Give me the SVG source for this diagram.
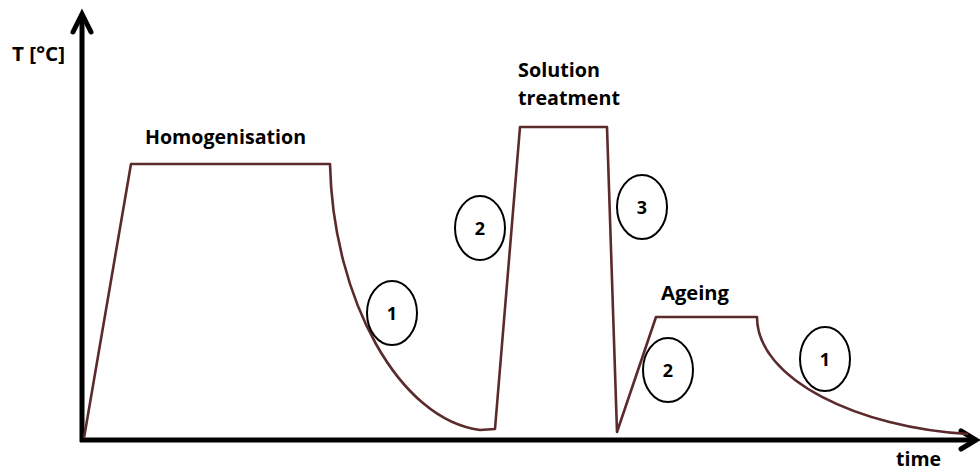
<svg xmlns="http://www.w3.org/2000/svg" width="980" height="472" viewBox="0 0 980 472">
  <style>
    .axis { fill: none; stroke: #000; stroke-width: 5; stroke-linecap: butt; }
    .head { fill: none; stroke: #000; stroke-width: 5; stroke-linecap: round; stroke-linejoin: miter; }
    .curve { fill: none; stroke: #5b2a2c; stroke-width: 2.6; stroke-linejoin: round; }
    .stage { fill: none; stroke: #000; stroke-width: 2; }
    .lbl { font-family: "Open Sans", "Liberation Sans", sans-serif; font-weight: bold; font-size: 19.5px; fill: #000; }
    .num { font-family: "Open Sans", "Liberation Sans", sans-serif; font-weight: bold; font-size: 18px; fill: #000; text-anchor: middle; }
  </style>
  <rect width="980" height="472" fill="#fff"/>

  <!-- axes -->
  <g id="axes">
    <line class="axis" x1="82" y1="442" x2="82" y2="16"/>
    <polyline class="head" points="73,32 82,14 91,32"/>
    <line class="axis" x1="80" y1="440" x2="974" y2="440"/>
    <polyline class="head" points="961,431 976,440 961,449"/>
    <text class="lbl" x="12" y="61" textLength="53" lengthAdjust="spacingAndGlyphs">T [°C]</text>
    <text class="lbl" x="896" y="466" textLength="45" lengthAdjust="spacingAndGlyphs">time</text>
  </g>

  <!-- temperature-time profile -->
  <g id="connectors">
    <path class="curve" d="M84,438 L131,164 L330,164 C333,300 400,420 480,430 L495,429 L520,127 L607,127 L617,432 L656,317 L757,317 C757,380 860,428 968,434"/>
  </g>

  <!-- stage labels -->
  <g id="homogenisation">
    <text class="lbl" x="145" y="144" textLength="161" lengthAdjust="spacingAndGlyphs">Homogenisation</text>
  </g>
  <g id="solution-treatment">
    <text class="lbl" x="518" y="77" textLength="82" lengthAdjust="spacingAndGlyphs">Solution</text>
    <text class="lbl" x="518" y="105" textLength="102" lengthAdjust="spacingAndGlyphs">treatment</text>
  </g>
  <g id="ageing">
    <text class="lbl" x="661" y="300" textLength="68" lengthAdjust="spacingAndGlyphs">Ageing</text>
  </g>

  <!-- numbered cooling/heating steps -->
  <g id="step-1a">
    <ellipse class="stage" cx="392" cy="313" rx="25" ry="32"/>
    <text class="num" x="392" y="320">1</text>
  </g>
  <g id="step-2a">
    <ellipse class="stage" cx="480" cy="228" rx="25" ry="32"/>
    <text class="num" x="480" y="235">2</text>
  </g>
  <g id="step-3">
    <ellipse class="stage" cx="642" cy="207" rx="25" ry="32"/>
    <text class="num" x="642" y="214">3</text>
  </g>
  <g id="step-2b">
    <ellipse class="stage" cx="668" cy="370" rx="25" ry="32"/>
    <text class="num" x="668" y="377">2</text>
  </g>
  <g id="step-1b">
    <ellipse class="stage" cx="825" cy="359" rx="25" ry="32"/>
    <text class="num" x="825" y="366">1</text>
  </g>
</svg>
